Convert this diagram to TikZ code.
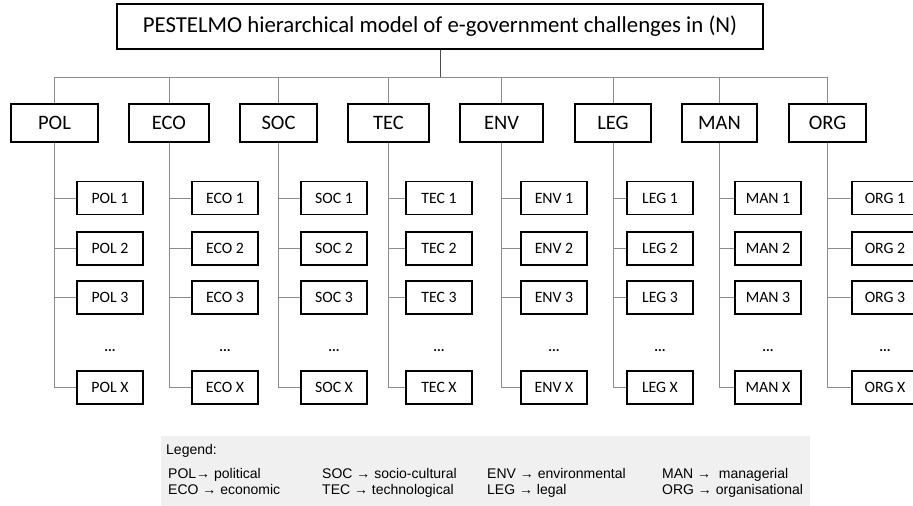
\documentclass[tikz,border=0pt]{standalone}
\usepackage{fontspec}
\setmainfont{Carlito}
\newfontfamily\legfont{Liberation Sans}
\begin{document}
\begin{tikzpicture}[x=1pt,y=-1pt,
  topbox/.style={draw=black,line width=1.1pt,rectangle,minimum height=45pt,minimum width=646pt,inner sep=0pt,font=\fontsize{22.8}{26}\selectfont},
  catbox/.style={draw=black,line width=1.1pt,rectangle,minimum height=38pt,inner sep=0pt,font=\fontsize{20.5}{24}\selectfont},
  subbox/.style={draw=black,line width=1.1pt,rectangle,minimum height=33pt,minimum width=66pt,inner sep=0pt,font=\fontsize{15.8}{19}\selectfont},
  dotsnode/.style={inner sep=0pt,font=\fontsize{14}{17}\selectfont\bfseries},
  link/.style={draw=black!45,line width=1pt},
  toplink/.style={draw=black!70,line width=1pt},
  legtext/.style={anchor=base west,inner sep=0pt,font=\legfont\fontsize{14}{17}\selectfont}
]
\useasboundingbox (0,0) rectangle (913,506);
\fill[white] (0,0) rectangle (913,506);

% legend background
\fill[black!6] (161,436) rectangle (810,510);

\node[topbox] (top) at (440,26.5) {PESTELMO hierarchical model of e-government challenges in (N)};
\coordinate (hub) at (440,77);
\draw[toplink] (top.south) -- (hub);

% categories: name, center x, width, sub-box left
\foreach \n/\cx/\w/\sl in {POL/54.5/87/77, ECO/169/80/192, SOC/278.5/77/301, TEC/388.5/81/406, ENV/501.5/83/521, LEG/613/76/627, MAN/719.5/75/735, ORG/827.5/77/852}{
  \node[catbox,minimum width=\w pt] (\n) at (\cx,123) {\n};
  \draw[link] (\n.north) |- (hub);
  \node[subbox] (\n1) at (\sl+33,198) {\n\ 1};
  \node[subbox] (\n2) at (\sl+33,248.5) {\n\ 2};
  \node[subbox] (\n3) at (\sl+33,297.5) {\n\ 3};
  \node[dotsnode] (\n d) at (\sl+33,351) {...};
  \node[subbox] (\n X) at (\sl+33,387.5) {\n\ X};
  \draw[link] (\n.south) |- (\n1.west);
  \draw[link] (\n.south) |- (\n2.west);
  \draw[link] (\n.south) |- (\n3.west);
  \draw[link] (\n.south) |- (\n X.west);
}

% legend
\node[legtext] (leg) at (166,454) {Legend:};
\node[legtext] (l1) at (168,478) {POL→ political};
\node[legtext] (l2) at (168,494) {ECO → economic};
\node[legtext] (l3) at (322,478) {SOC → socio-cultural};
\node[legtext] (l4) at (322,494) {TEC → technological};
\node[legtext] (l5) at (487,478) {ENV → environmental};
\node[legtext] (l6) at (487,494) {LEG → legal};
\node[legtext] (l7) at (662,478) {MAN → \ managerial};
\node[legtext] (l8) at (662,494) {ORG → organisational};
\end{tikzpicture}
\end{document}
